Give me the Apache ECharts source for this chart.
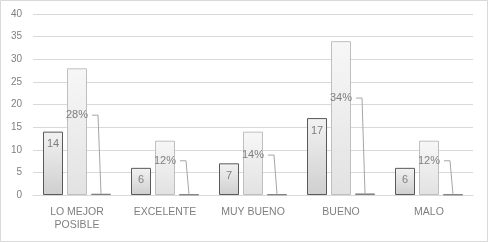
<!DOCTYPE html>
<html><head><meta charset="utf-8">
<script src="https://cdn.jsdelivr.net/npm/echarts@6/dist/echarts.min.js"></script>
<style>html,body{margin:0;padding:0;background:#fff}#c{width:488px;height:242px}</style>
</head><body><div id="c"></div>
<script>
const categories = ['LO MEJOR\nPOSIBLE', 'EXCELENTE', 'MUY BUENO', 'BUENO', 'MALO'];
const counts = [14, 6, 7, 17, 6];
const percentValues = [28, 12, 14, 34, 12];
const shares = [0.28, 0.12, 0.14, 0.34, 0.12];
const shareLabels = ['28%', '12%', '14%', '34%', '12%'];
const yTicks = { min: 0, max: 40, interval: 5 };

const font = 'Liberation Sans, Arial, sans-serif';
const chart = echarts.init(document.getElementById('c'), null, { renderer: 'canvas' });
const barW = 20, step = 24;

chart.setOption({
  animation: false,
  backgroundColor: '#fff',
  graphic: [{ type: 'rect', shape: { x: 0.5, y: 0.5, width: 487, height: 241 }, style: { fill: 'none', stroke: '#d9d9d9', lineWidth: 1 }, z: 100 }],
  grid: { left: 33, right: 15, top: 14, bottom: 47 },
  xAxis: {
    type: 'category', data: categories,
    axisLine: { lineStyle: { color: '#d9d9d9' } },
    axisTick: { show: false },
    axisLabel: { color: '#7f7f7f', fontSize: 10.5, fontFamily: font, margin: 11, lineHeight: 13, interval: 0 }
  },
  yAxis: {
    type: 'value', min: yTicks.min, max: yTicks.max, interval: yTicks.interval,
    axisLine: { show: false }, axisTick: { show: false },
    splitLine: { lineStyle: { color: '#d9d9d9' } },
    axisLabel: { color: '#7f7f7f', fontSize: 10, fontFamily: font, margin: 11 }
  },
  series: [
    {
      type: 'bar', data: counts, barWidth: barW, barGap: '20%',
      itemStyle: {
        color: new echarts.graphic.LinearGradient(0, 0, 0, 1, [{ offset: 0, color: '#f2f2f2' }, { offset: 1, color: '#cfcfcf' }]),
        borderColor: '#595959', borderWidth: 1
      },
      label: { show: true, position: 'insideTop', distance: 7, color: '#7f7f7f', fontSize: 11, fontFamily: font }
    },
    {
      type: 'bar', data: percentValues, barWidth: barW,
      itemStyle: {
        color: new echarts.graphic.LinearGradient(0, 0, 0, 1, [{ offset: 0, color: '#f7f7f7' }, { offset: 1, color: '#e2e2e2' }]),
        borderColor: '#bfbfbf', borderWidth: 1
      }
    },
    {
      type: 'bar', data: shares, barWidth: barW,
      itemStyle: { color: '#e6e6e6', borderColor: '#7f7f7f', borderWidth: 1 }
    },
    {
      type: 'custom', z: 10,
      data: categories.map((c, i) => [i, percentValues[i], shares[i], shareLabels[i]]),
      encode: { x: 0, y: 1 },
      renderItem: function (params, api) {
        const i = api.value(0);
        const v2 = api.value(1);
        const v3 = api.value(2);
        const lab = shareLabels[i];
        const center = api.coord([i, 0]);
        const cx = center[0];
        const ly = api.coord([i, v2 * 0.63])[1];
        const b3x = cx + step;
        const b3top = api.coord([i, v3])[1];
        return {
          type: 'group',
          children: [
            { type: 'text', style: { text: lab, x: cx, y: ly, align: 'center', verticalAlign: 'middle', fill: '#7f7f7f', font: '11px ' + font } },
            { type: 'polyline', shape: { points: [[cx + 15, ly], [b3x - 3, ly], [b3x, b3top]] }, style: { stroke: '#a6a6a6', lineWidth: 1, fill: 'none' } }
          ]
        };
      }
    }
  ]
});
</script></body></html>
